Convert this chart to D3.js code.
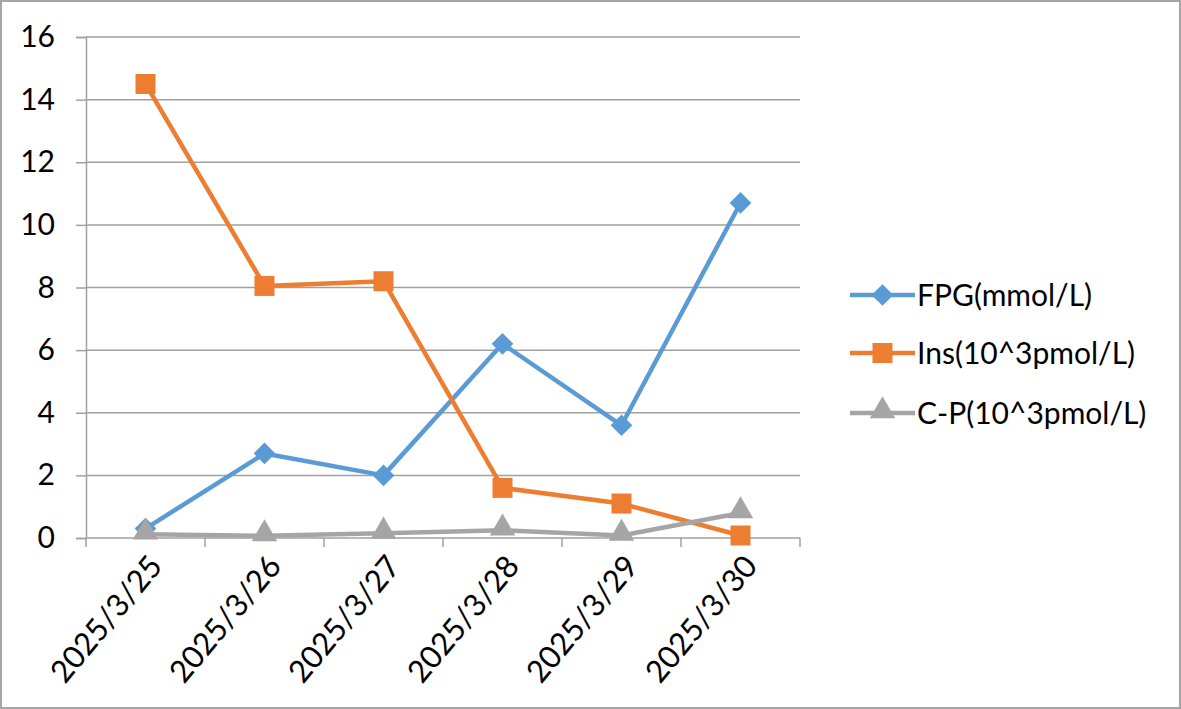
<!DOCTYPE html>
<html><head><meta charset="utf-8">
<script src="https://cdn.jsdelivr.net/npm/d3@7"></script>
<style>body{margin:0;background:#fff}svg{display:block}</style>
</head><body>
<script>
const categories = ["2025/3/25","2025/3/26","2025/3/27","2025/3/28","2025/3/29","2025/3/30"];
const fpg = [0.3, 2.7, 2.0, 6.2, 3.6, 10.7];
const ins = [14.5, 8.05, 8.2, 1.6, 1.1, 0.08];
const cp = [0.12, 0.07, 0.15, 0.25, 0.08, 0.8];
const seriesNames = ["FPG(mmol/L)", "Ins(10^3pmol/L)", "C-P(10^3pmol/L)"];
const yTicks = [0,2,4,6,8,10,12,14,16];

const W = 1181, H = 709;
const m = {left: 86, right: 381, top: 37, bottom: 171};
const svg = d3.select("body").append("svg").attr("width", W).attr("height", H);
svg.append("rect").attr("x",1).attr("y",1).attr("width",W-2).attr("height",H-2)
  .attr("fill","#fff").attr("stroke","#a6a6a6").attr("stroke-width",2);

const font = "Lato, 'Open Sans', sans-serif";
const fs = 30;
const x = d3.scaleBand().domain(categories).range([m.left, W - m.right]);
const y = d3.scaleLinear().domain([0,16]).range([H - m.bottom, m.top]);
const gridColor = "#a0a0a0";

const gy = svg.append("g").attr("transform", `translate(${m.left},0)`)
  .call(d3.axisLeft(y).tickValues(yTicks).tickSize(10).tickPadding(21).tickFormat(d3.format("d")));
gy.select(".domain").attr("stroke", gridColor).attr("stroke-width", 1.5);
gy.selectAll(".tick line").attr("stroke", gridColor).attr("stroke-width", 1.5);
gy.selectAll(".tick text").attr("font-family", font).attr("font-size", fs).attr("fill","#000");
svg.append("g").selectAll("line").data(yTicks.filter(d=>d>0)).join("line")
  .attr("x1", m.left).attr("x2", W - m.right).attr("y1", d=>y(d)).attr("y2", d=>y(d))
  .attr("stroke", gridColor).attr("stroke-width", 1.5);

const gx = svg.append("g").attr("transform", `translate(0,${H - m.bottom})`);
gx.append("line").attr("x1", m.left).attr("x2", W - m.right).attr("stroke", gridColor).attr("stroke-width", 1.5);
const edges = categories.map(c => x(c)).concat([x(categories[categories.length-1]) + x.bandwidth()]);
gx.selectAll("line.tk").data(edges).join("line").attr("class","tk")
  .attr("x1", d=>d).attr("x2", d=>d).attr("y1",0).attr("y2",9)
  .attr("stroke", gridColor).attr("stroke-width", 1.5);
gx.selectAll("text").data(categories).join("text")
  .attr("transform", d => `translate(${x(d)+x.bandwidth()/2+10},${22}) rotate(-50)`)
  .attr("text-anchor","end").attr("dy","0.35em")
  .attr("font-family", font).attr("font-size", 31).attr("fill","#000").text(d=>d);

const colors = ["#5b9bd5", "#ed7d31", "#a5a5a5"];
const data = [fpg, ins, cp];
const symbols = [d3.symbolDiamond2, d3.symbolSquare, d3.symbolTriangle];
const symSizes = [300, 400, 280];
const line = d3.line().x((d,i)=>x(categories[i]) + x.bandwidth()/2).y(d=>y(d));

data.forEach((vals, si) => {
  const g = svg.append("g");
  g.append("path").attr("d", line(vals)).attr("fill","none")
    .attr("stroke", colors[si]).attr("stroke-width", 4.5).attr("stroke-linejoin","round");
  g.selectAll("path.pt").data(vals).join("path").attr("class","pt")
    .attr("transform", (d,i)=>`translate(${x(categories[i]) + x.bandwidth()/2},${y(d) + (si===2?-2:0)})`)
    .attr("d", d3.symbol().type(symbols[si]).size(symSizes[si])())
    .attr("fill", colors[si]);
});

const legY = [295, 353, 413];
const lg = svg.append("g");
seriesNames.forEach((name, i) => {
  const r = lg.append("g").attr("transform", `translate(850,${legY[i]})`);
  r.append("line").attr("x1",0).attr("x2",65).attr("stroke",colors[i]).attr("stroke-width",4.5);
  r.append("path").attr("transform", `translate(32.5,${i===2?-2:0})`)
    .attr("d", d3.symbol().type(symbols[i]).size(symSizes[i])()).attr("fill", colors[i]);
  r.append("text").attr("x", 67).attr("dy","0.35em").attr("font-family", font)
    .attr("font-size", fs).attr("fill","#000").text(name);
});
</script>
</body></html>
